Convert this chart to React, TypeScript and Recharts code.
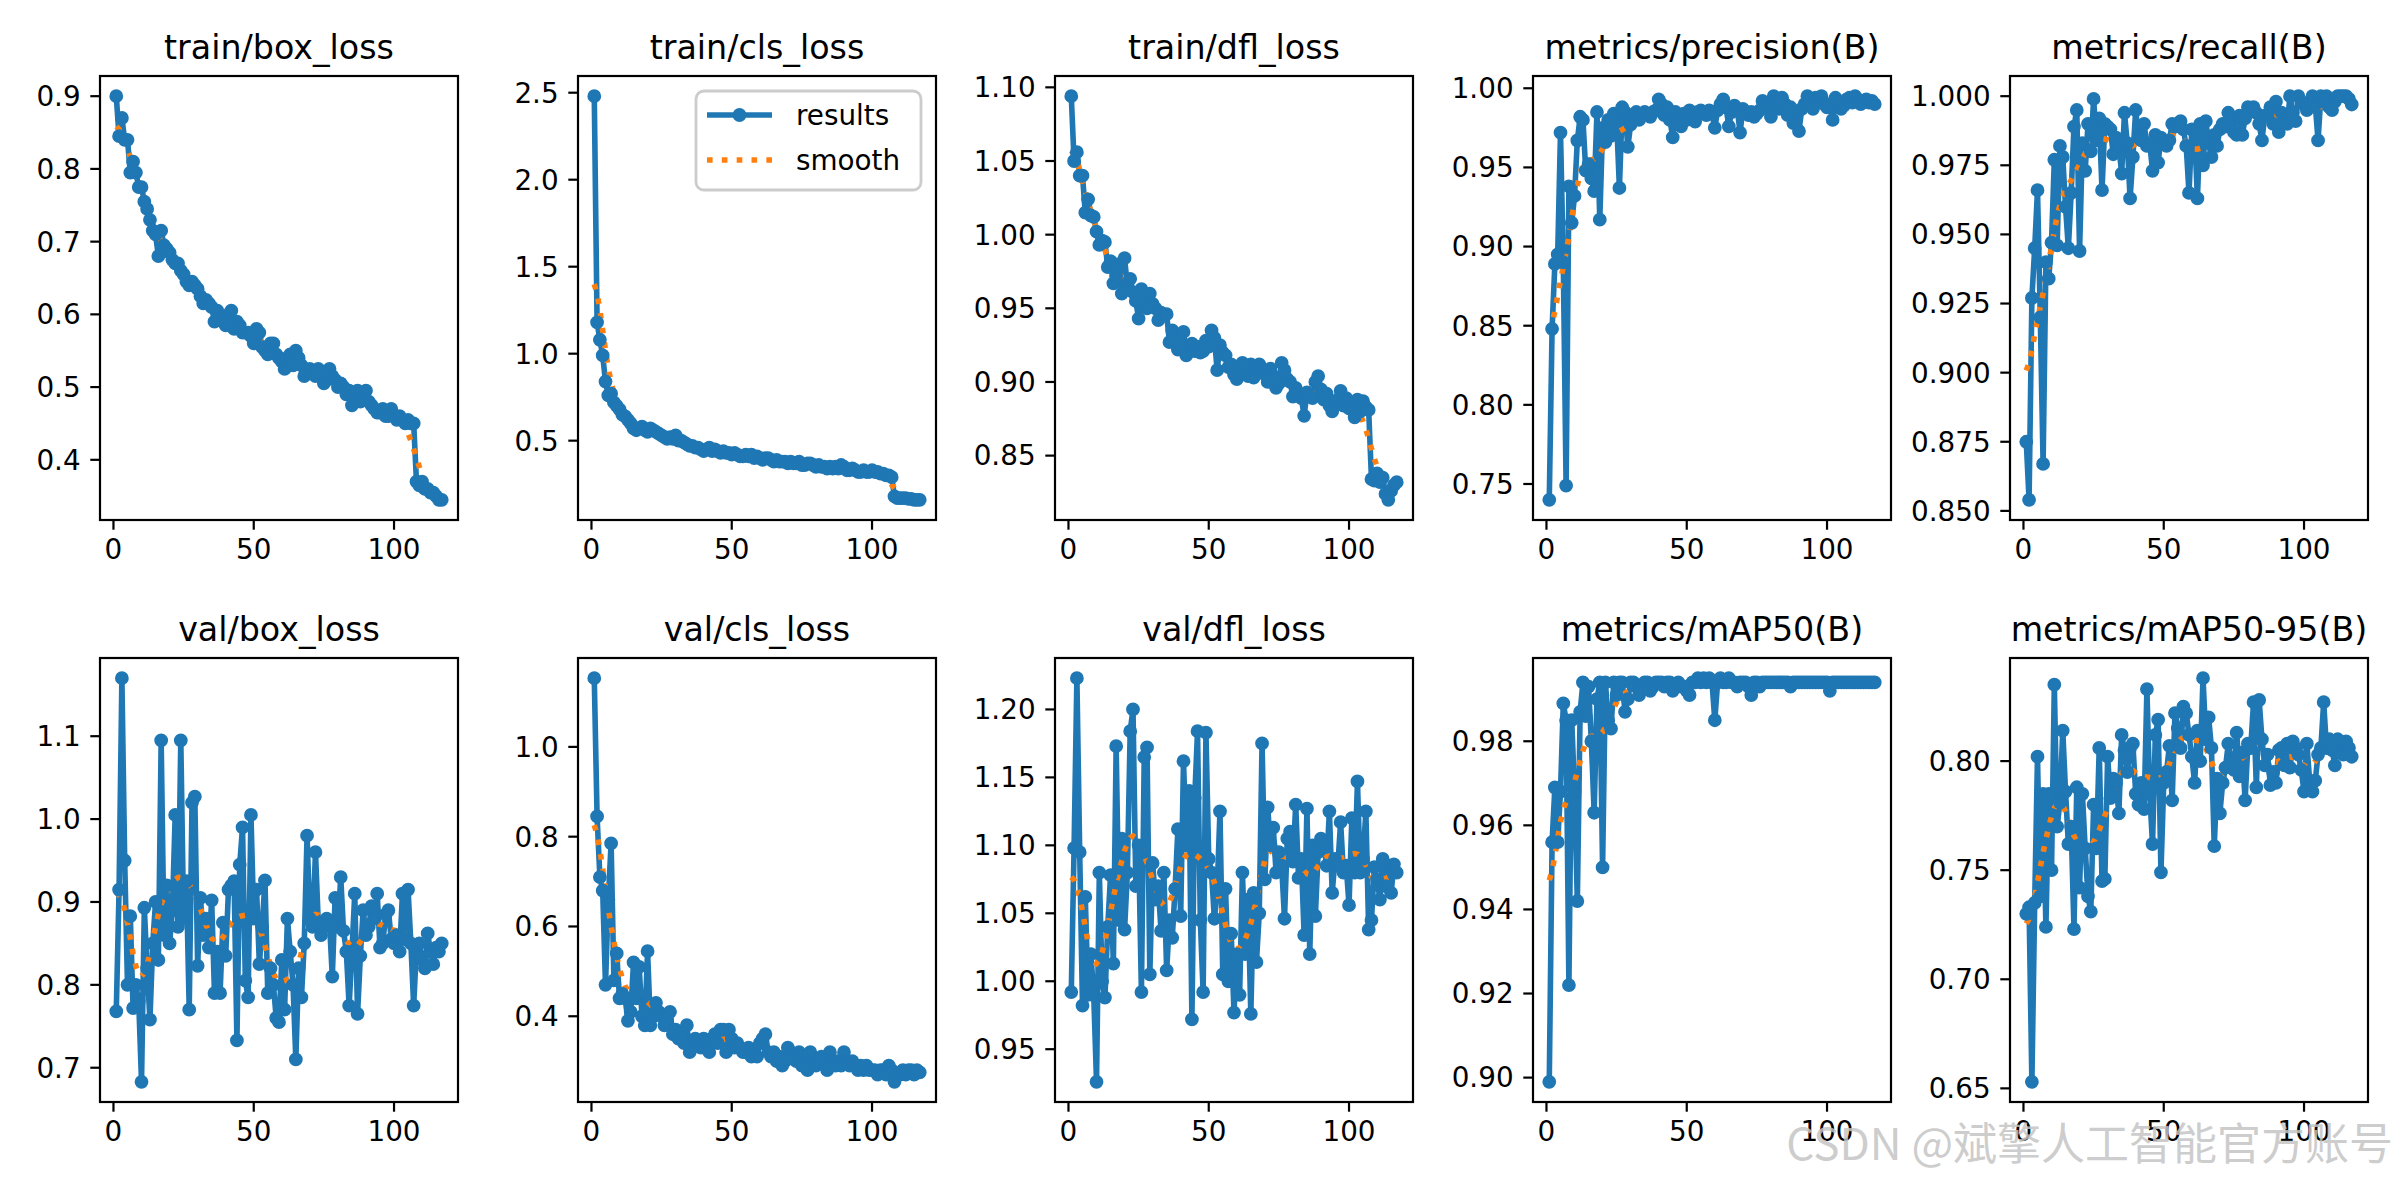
import React from 'react'
import { LineChart, Line, XAxis, YAxis } from 'recharts'

// epochs 1..117
const epochs = Array.from({ length: 117 }, (_, i) => i + 1)
const xTicks = [0, 50, 100]

const trainBoxLoss = [
  0.900, 0.845, 0.870, 0.840, 0.840, 0.795, 0.810, 0.795, 0.775, 0.775,
  0.755, 0.745, 0.730, 0.715, 0.710, 0.680, 0.715, 0.695, 0.690, 0.685,
  0.675, 0.670, 0.670, 0.660, 0.655, 0.645, 0.640, 0.645, 0.640, 0.635,
  0.625, 0.615, 0.620, 0.615, 0.610, 0.590, 0.605, 0.595, 0.590, 0.585,
  0.600, 0.605, 0.580, 0.590, 0.585, 0.575, 0.575, 0.575, 0.570, 0.560,
  0.580, 0.575, 0.555, 0.550, 0.545, 0.560, 0.560, 0.545, 0.540, 0.535,
  0.525, 0.540, 0.545, 0.530, 0.550, 0.540, 0.530, 0.515, 0.520, 0.525,
  0.520, 0.515, 0.525, 0.520, 0.505, 0.510, 0.525, 0.515, 0.510, 0.500,
  0.505, 0.500, 0.490, 0.495, 0.475, 0.490, 0.495, 0.480, 0.485, 0.495,
  0.480, 0.475, 0.470, 0.465, 0.465, 0.470, 0.460, 0.460, 0.470, 0.460,
  0.455, 0.460, 0.455, 0.450, 0.455, 0.450, 0.450, 0.370, 0.365, 0.370,
  0.360, 0.360, 0.355, 0.355, 0.350, 0.345, 0.345,
]

const trainClsLoss = [
  2.48, 1.18, 1.08, 0.99, 0.84, 0.76, 0.77, 0.72, 0.70, 0.68,
  0.65, 0.64, 0.62, 0.60, 0.57, 0.56, 0.57, 0.58, 0.56, 0.55,
  0.57, 0.56, 0.55, 0.54, 0.53, 0.52, 0.51, 0.52, 0.51, 0.53,
  0.50, 0.50, 0.49, 0.48, 0.47, 0.47, 0.46, 0.46, 0.45, 0.44,
  0.45, 0.46, 0.44, 0.45, 0.44, 0.43, 0.44, 0.43, 0.43, 0.42,
  0.43, 0.42, 0.41, 0.41, 0.42, 0.41, 0.42, 0.40, 0.41, 0.40,
  0.39, 0.40, 0.40, 0.39, 0.38, 0.39, 0.38, 0.38, 0.38, 0.37,
  0.38, 0.37, 0.37, 0.38, 0.36, 0.36, 0.37, 0.37, 0.36, 0.35,
  0.36, 0.35, 0.35, 0.34, 0.35, 0.34, 0.35, 0.34, 0.36, 0.35,
  0.33, 0.33, 0.34, 0.33, 0.32, 0.32, 0.33, 0.32, 0.32, 0.33,
  0.32, 0.32, 0.31, 0.31, 0.30, 0.30, 0.29, 0.18, 0.17, 0.17,
  0.17, 0.17, 0.165, 0.165, 0.16, 0.16, 0.16,
]

const trainDflLoss = [
  1.094, 1.050, 1.056, 1.040, 1.040, 1.015, 1.024, 1.013, 1.012, 1.002,
  0.993, 0.996, 0.995, 0.978, 0.982, 0.967, 0.972, 0.980, 0.960, 0.984,
  0.965, 0.970, 0.961, 0.955, 0.943, 0.963, 0.955, 0.950, 0.960, 0.953,
  0.950, 0.942, 0.947, 0.945, 0.946, 0.927, 0.935, 0.930, 0.922, 0.926,
  0.934, 0.918, 0.924, 0.926, 0.921, 0.924, 0.920, 0.921, 0.928, 0.924,
  0.935, 0.930, 0.908, 0.925, 0.920, 0.918, 0.910, 0.912, 0.905, 0.902,
  0.906, 0.913, 0.908, 0.904, 0.912, 0.903, 0.910, 0.912, 0.906, 0.908,
  0.900, 0.909, 0.904, 0.896, 0.899, 0.913, 0.908, 0.902, 0.900, 0.890,
  0.896, 0.892, 0.889, 0.877, 0.893, 0.890, 0.889, 0.900, 0.904, 0.895,
  0.888, 0.892, 0.884, 0.880, 0.886, 0.888, 0.894, 0.884, 0.889, 0.882,
  0.885, 0.876, 0.888, 0.880, 0.887, 0.883, 0.881, 0.834, 0.833, 0.838,
  0.832, 0.835, 0.824, 0.820, 0.826, 0.830, 0.832,
]

const precision = [
  0.740, 0.848, 0.889, 0.895, 0.972, 0.890, 0.749, 0.938, 0.915, 0.932,
  0.967, 0.982, 0.980, 0.948, 0.952, 0.943, 0.935, 0.985, 0.917, 0.975,
  0.966, 0.980, 0.970, 0.984, 0.980, 0.937, 0.988, 0.985, 0.963, 0.977,
  0.983, 0.985, 0.980, 0.983, 0.985, 0.984, 0.982, 0.985, 0.986, 0.993,
  0.990, 0.983, 0.988, 0.980, 0.969, 0.985, 0.980, 0.976, 0.984, 0.980,
  0.986, 0.983, 0.979, 0.985, 0.986, 0.984, 0.983, 0.986, 0.984, 0.975,
  0.986, 0.990, 0.993, 0.988, 0.976, 0.985, 0.989, 0.987, 0.972, 0.987,
  0.985, 0.983, 0.985, 0.982, 0.984, 0.986, 0.992, 0.989, 0.990, 0.982,
  0.995, 0.990, 0.987, 0.994, 0.990, 0.983, 0.988, 0.978, 0.985, 0.973,
  0.987, 0.990, 0.995, 0.992, 0.987, 0.994, 0.993, 0.995, 0.990, 0.988,
  0.990, 0.980, 0.994, 0.991, 0.987, 0.989, 0.993, 0.994, 0.991, 0.995,
  0.993, 0.990, 0.992, 0.993, 0.991, 0.992, 0.990,
]

const recall = [
  0.875, 0.854, 0.927, 0.945, 0.966, 0.920, 0.867, 0.940, 0.934, 0.947,
  0.977, 0.946, 0.982, 0.978, 0.960, 0.945, 0.965, 0.989, 0.995, 0.944,
  0.983, 0.973, 0.990, 0.980, 0.999, 0.984, 0.992, 0.966, 0.990, 0.989,
  0.988, 0.979, 0.985, 0.982, 0.972, 0.994, 0.983, 0.963, 0.978, 0.995,
  0.985, 0.984, 0.990, 0.982, 0.983, 0.973, 0.986, 0.976, 0.985, 0.983,
  0.982, 0.984, 0.990, 0.989, 0.990, 0.991, 0.988, 0.982, 0.965, 0.988,
  0.987, 0.963, 0.990, 0.975, 0.991, 0.983, 0.978, 0.986, 0.982, 0.988,
  0.990, 0.989, 0.994, 0.990, 0.987, 0.986, 0.993, 0.986, 0.992, 0.996,
  0.995, 0.996, 0.994, 0.990, 0.984, 0.993, 0.993, 0.996, 0.990, 0.998,
  0.987, 0.994, 0.992, 0.990, 1.000, 0.994, 0.991, 1.000, 0.998, 0.997,
  0.995, 0.996, 1.000, 0.997, 0.984, 1.000, 0.998, 1.000, 0.996, 0.995,
  0.998, 1.000, 1.000, 1.000, 1.000, 0.999, 0.997,
]

const valBoxLoss = [
  0.768, 0.915, 1.170, 0.950, 0.800, 0.883, 0.772, 0.800, 0.780, 0.683,
  0.893, 0.820, 0.758, 0.850, 0.900, 0.830, 1.095, 0.860, 0.920, 0.850,
  0.890, 1.005, 0.870, 1.095, 0.880, 0.925, 0.770, 1.020, 1.027, 0.823,
  0.905, 0.860, 0.880, 0.845, 0.902, 0.790, 0.840, 0.790, 0.875, 0.835,
  0.915, 0.920, 0.925, 0.733, 0.945, 0.990, 0.805, 0.785, 1.005, 0.880,
  0.915, 0.825, 0.870, 0.926, 0.790, 0.820, 0.800, 0.760, 0.755, 0.830,
  0.770, 0.880, 0.840, 0.800, 0.710, 0.820, 0.785, 0.850, 0.980, 0.880,
  0.870, 0.960, 0.875, 0.860, 0.870, 0.880, 0.875, 0.810, 0.905, 0.870,
  0.930, 0.865, 0.840, 0.775, 0.840, 0.910, 0.765, 0.835, 0.890, 0.860,
  0.870, 0.895, 0.880, 0.910, 0.845, 0.850, 0.885, 0.890, 0.855, 0.850,
  0.860, 0.840, 0.910, 0.855, 0.915, 0.850, 0.775, 0.845, 0.850, 0.830,
  0.820, 0.862, 0.840, 0.825, 0.845, 0.840, 0.850,
]

const valClsLoss = [
  1.153, 0.845, 0.710, 0.680, 0.470, 0.660, 0.785, 0.480, 0.540, 0.440,
  0.450, 0.440, 0.390, 0.410, 0.520, 0.440, 0.510, 0.400, 0.380, 0.545,
  0.380, 0.400, 0.430, 0.410, 0.400, 0.380, 0.390, 0.410, 0.360, 0.370,
  0.350, 0.360, 0.340, 0.380, 0.320, 0.330, 0.350, 0.340, 0.330, 0.350,
  0.340, 0.320, 0.350, 0.360, 0.340, 0.370, 0.370, 0.320, 0.370, 0.350,
  0.330, 0.340, 0.330, 0.320, 0.320, 0.330, 0.310, 0.320, 0.310, 0.340,
  0.350, 0.360, 0.320, 0.310, 0.320, 0.300, 0.310, 0.290, 0.300, 0.330,
  0.320, 0.310, 0.300, 0.320, 0.290, 0.310, 0.280, 0.320, 0.300, 0.290,
  0.300, 0.310, 0.300, 0.280, 0.320, 0.300, 0.290, 0.300, 0.290, 0.320,
  0.300, 0.290, 0.300, 0.290, 0.280, 0.290, 0.280, 0.290, 0.280, 0.280,
  0.280, 0.270, 0.280, 0.280, 0.270, 0.290, 0.280, 0.254, 0.270, 0.270,
  0.280, 0.270, 0.280, 0.280, 0.270, 0.280, 0.275,
]

const valDflLoss = [
  0.992, 1.098, 1.223, 1.095, 0.982, 1.062, 0.990, 1.020, 0.990, 0.926,
  1.080, 1.000, 0.988, 1.040, 1.078, 1.013, 1.173, 1.045, 1.105, 1.038,
  1.080, 1.184, 1.200, 1.070, 1.100, 0.992, 1.165, 1.172, 1.005, 1.087,
  1.060, 1.070, 1.037, 1.080, 1.008, 1.045, 1.032, 1.068, 1.112, 1.048,
  1.162, 1.100, 1.140, 0.972, 1.135, 1.184, 1.045, 0.992, 1.183, 1.090,
  1.080, 1.046, 1.067, 1.125, 1.005, 1.068, 1.000, 1.035, 0.977, 1.020,
  0.990, 1.080, 1.020, 1.060, 0.976, 1.065, 1.014, 1.050, 1.175, 1.075,
  1.128, 1.100, 1.113, 1.080, 1.095, 1.085, 1.046, 1.105, 1.110, 1.088,
  1.130, 1.076, 1.090, 1.034, 1.127, 1.020, 1.100, 1.048, 1.095, 1.105,
  1.100, 1.085, 1.125, 1.065, 1.090, 1.085, 1.117, 1.080, 1.085, 1.056,
  1.120, 1.080, 1.147, 1.080, 1.090, 1.125, 1.038, 1.045, 1.084, 1.075,
  1.060, 1.090, 1.070, 1.085, 1.065, 1.086, 1.080,
]

const mAP50 = [
  0.899, 0.956, 0.969, 0.956, 0.968, 0.989, 0.985, 0.922, 0.985, 0.968,
  0.942, 0.987, 0.994, 0.986, 0.993, 0.980, 0.963, 0.990, 0.994, 0.950,
  0.994, 0.985, 0.983, 0.994, 0.991, 0.994, 0.994, 0.987, 0.990, 0.994,
  0.994, 0.993, 0.991, 0.993, 0.994, 0.994, 0.992, 0.993, 0.994, 0.994,
  0.994, 0.993, 0.994, 0.994, 0.992, 0.993, 0.994, 0.993, 0.993, 0.992,
  0.991, 0.994, 0.994, 0.995, 0.994, 0.995, 0.994, 0.995, 0.994, 0.985,
  0.994, 0.995, 0.994, 0.994, 0.995, 0.994, 0.994, 0.993, 0.994, 0.994,
  0.994, 0.993, 0.991, 0.994, 0.994, 0.993, 0.994, 0.994, 0.994, 0.994,
  0.994, 0.994, 0.994, 0.994, 0.994, 0.994, 0.993, 0.994, 0.994, 0.994,
  0.994, 0.994, 0.994, 0.994, 0.994, 0.994, 0.994, 0.994, 0.994, 0.994,
  0.992, 0.994, 0.994, 0.994, 0.994, 0.994, 0.994, 0.994, 0.994, 0.994,
  0.994, 0.994, 0.994, 0.994, 0.994, 0.994, 0.994,
]

const mAP50_95 = [
  0.730, 0.733, 0.653, 0.735, 0.802, 0.738, 0.785, 0.724, 0.785, 0.750,
  0.835, 0.770, 0.781, 0.814, 0.786, 0.762, 0.770, 0.723, 0.788, 0.742,
  0.785, 0.760, 0.738, 0.731, 0.780, 0.760, 0.806, 0.745, 0.746, 0.802,
  0.783, 0.792, 0.790, 0.776, 0.812, 0.805, 0.795, 0.806, 0.808, 0.785,
  0.780, 0.790, 0.778, 0.833, 0.785, 0.762, 0.812, 0.819, 0.749, 0.790,
  0.795, 0.807, 0.782, 0.822, 0.815, 0.806, 0.825, 0.822, 0.812, 0.802,
  0.790, 0.814, 0.800, 0.838, 0.810, 0.820, 0.806, 0.761, 0.792, 0.776,
  0.790, 0.797, 0.808, 0.800, 0.796, 0.813, 0.793, 0.804, 0.782, 0.808,
  0.806, 0.827, 0.788, 0.828, 0.810, 0.798, 0.803, 0.789, 0.795, 0.790,
  0.805, 0.806, 0.798, 0.808, 0.797, 0.809, 0.806, 0.803, 0.796, 0.786,
  0.808, 0.791, 0.786, 0.791, 0.803, 0.806, 0.827, 0.806, 0.810, 0.805,
  0.798, 0.810, 0.805, 0.803, 0.809, 0.806, 0.802,
]

// y tick labels per panel
const boxTicks = [0.4, 0.5, 0.6, 0.7, 0.8, 0.9]
const clsTicks = [0.5, 1.0, 1.5, 2.0, 2.5]
const dflTicks = [0.85, 0.9, 0.95, 1.0, 1.05, 1.1]
const precisionTicks = [0.75, 0.8, 0.85, 0.9, 0.95, 1.0]
const recallTicks = [0.85, 0.875, 0.9, 0.925, 0.95, 0.975, 1.0]
const valBoxTicks = [0.7, 0.8, 0.9, 1.0, 1.1]
const valClsTicks = [0.4, 0.6, 0.8, 1.0]
const valDflTicks = [0.95, 1.0, 1.05, 1.1, 1.15, 1.2]
const map50Ticks = [0.9, 0.92, 0.94, 0.96, 0.98]
const map5095Ticks = [0.65, 0.7, 0.75, 0.8]

const panels = [
  { title: 'train/box_loss', values: trainBoxLoss, ticks: boxTicks, digits: 1 },
  { title: 'train/cls_loss', values: trainClsLoss, ticks: clsTicks, digits: 1 },
  { title: 'train/dfl_loss', values: trainDflLoss, ticks: dflTicks, digits: 2 },
  { title: 'metrics/precision(B)', values: precision, ticks: precisionTicks, digits: 2 },
  { title: 'metrics/recall(B)', values: recall, ticks: recallTicks, digits: 3 },
  { title: 'val/box_loss', values: valBoxLoss, ticks: valBoxTicks, digits: 1 },
  { title: 'val/cls_loss', values: valClsLoss, ticks: valClsTicks, digits: 1 },
  { title: 'val/dfl_loss', values: valDflLoss, ticks: valDflTicks, digits: 2 },
  { title: 'metrics/mAP50(B)', values: mAP50, ticks: map50Ticks, digits: 2 },
  { title: 'metrics/mAP50-95(B)', values: mAP50_95, ticks: map5095Ticks, digits: 2 },
]

// layout of the 2x5 grid (px)
const LEFTS = [100, 578, 1055, 1533, 2010]
const TOPS = [76, 658]
const W = 358
const H = 444
const Y_AXIS_W = 110
const X_AXIS_H = 70
const PAD_T = 10
const PAD_R = 20

const BLUE = '#1f77b4'
const ORANGE = '#ff7f0e'
const FONT = 'DejaVu Sans, sans-serif'
const LW = 5.6

// same as scipy gaussian_filter1d(y, sigma), mode 'reflect'
function gaussianSmooth(y: number[], sigma: number) {
  const radius = Math.round(4 * sigma)
  const w: number[] = []
  let sum = 0
  for (let k = -radius; k <= radius; k++) {
    const v = Math.exp((-0.5 * k * k) / (sigma * sigma))
    w.push(v)
    sum += v
  }
  const n = y.length
  const at = (i: number) => {
    while (i < 0 || i >= n) i = i < 0 ? -i - 1 : 2 * n - i - 1
    return y[i]
  }
  return y.map((_, i) => {
    let acc = 0
    for (let k = -radius; k <= radius; k++) acc += w[k + radius] * at(i + k)
    return acc / sum
  })
}

const xMin = epochs[0] - 0.05 * (epochs[epochs.length - 1] - epochs[0])
const xMax = epochs[epochs.length - 1] + 0.05 * (epochs[epochs.length - 1] - epochs[0])

const tickStyle = { fill: '#000', fontSize: 27.8, fontFamily: FONT }

function Panel({ idx }: { idx: number }) {
  const p = panels[idx]
  const L = LEFTS[idx % 5]
  const T = TOPS[Math.floor(idx / 5)]
  const smooth = gaussianSmooth(p.values, 3)
  const data = epochs.map((e, i) => ({ epoch: e, results: p.values[i], smooth: smooth[i] }))
  const lo = Math.min(...p.values, ...smooth)
  const hi = Math.max(...p.values, ...smooth)
  const pad = (hi - lo) * 0.05
  return (
    <div style={{ position: 'absolute', left: L - Y_AXIS_W, top: T - PAD_T }}>
      <LineChart
        width={W + Y_AXIS_W + PAD_R}
        height={H + PAD_T + X_AXIS_H}
        data={data}
        margin={{ top: PAD_T, right: PAD_R, bottom: 0, left: 0 }}
      >
        <XAxis
          dataKey="epoch"
          type="number"
          domain={[xMin, xMax]}
          allowDataOverflow
          ticks={xTicks}
          interval={0}
          height={X_AXIS_H}
          axisLine={false}
          stroke="#000"
          tickLine={{ stroke: '#000', strokeWidth: 2.2 }}
          tickSize={9.7}
          tickMargin={9.7}
          tick={tickStyle}
        />
        <YAxis
          type="number"
          domain={[lo - pad, hi + pad]}
          allowDataOverflow
          ticks={p.ticks}
          interval={0}
          width={Y_AXIS_W}
          axisLine={false}
          stroke="#000"
          tickLine={{ stroke: '#000', strokeWidth: 2.2 }}
          tickSize={9.7}
          tickMargin={9.7}
          tick={tickStyle}
          tickFormatter={(v: number) => v.toFixed(p.digits)}
        />
        <Line
          dataKey="results"
          stroke={BLUE}
          strokeWidth={LW}
          strokeLinejoin="round"
          dot={{ r: 5.5, fill: BLUE, stroke: BLUE, strokeWidth: 2.8 }}
          activeDot={false}
          isAnimationActive={false}
        />
        <Line
          dataKey="smooth"
          stroke={ORANGE}
          strokeWidth={LW}
          strokeDasharray="5.6 9.24"
          dot={false}
          activeDot={false}
          isAnimationActive={false}
        />
      </LineChart>
    </div>
  )
}

export default function App() {
  return (
    <div
      style={{
        position: 'absolute',
        left: 0,
        top: 0,
        width: 2400,
        height: 1200,
        background: '#fff',
        overflow: 'hidden',
      }}
    >
      {panels.map((_, i) => (
        <Panel key={i} idx={i} />
      ))}
      <svg
        width={2400}
        height={1200}
        style={{ position: 'absolute', left: 0, top: 0, pointerEvents: 'none' }}
      >
        {panels.map((p, i) => {
          const L = LEFTS[i % 5]
          const T = TOPS[Math.floor(i / 5)]
          return (
            <g key={i}>
              <rect x={L} y={T} width={W} height={H} fill="none" stroke="#000" strokeWidth={2.2} />
              <text
                x={L + W / 2}
                y={T - 17}
                textAnchor="middle"
                fontFamily={FONT}
                fontSize={33.3}
                fill="#000"
              >
                {p.title}
              </text>
            </g>
          )
        })}
        {/* legend, train/cls_loss panel */}
        <g>
          <rect
            x={696}
            y={91}
            width={225}
            height={99}
            rx={8}
            fill="#fff"
            fillOpacity={0.8}
            stroke="#cccccc"
            strokeWidth={2.8}
          />
          <line x1={707} y1={115} x2={772} y2={115} stroke={BLUE} strokeWidth={LW} />
          <circle cx={739.5} cy={115} r={5.5} fill={BLUE} stroke={BLUE} strokeWidth={2.8} />
          <text x={796} y={125} fontFamily={FONT} fontSize={27.8} fill="#000">
            results
          </text>
          <line
            x1={707}
            y1={160}
            x2={772}
            y2={160}
            stroke={ORANGE}
            strokeWidth={LW}
            strokeDasharray="5.6 9.24"
          />
          <text x={796} y={170} fontFamily={FONT} fontSize={27.8} fill="#000">
            smooth
          </text>
        </g>
        {/* watermark, lies over the bottom-right tick labels as in the source image */}
        <text
          x={2393}
          y={1160}
          textAnchor="end"
          fontFamily="Noto Sans CJK SC, sans-serif"
          fontSize={44}
          fill="#c4c4c4"
          fillOpacity={0.85}
        >
          CSDN @斌擎人工智能官方账号
        </text>
      </svg>
    </div>
  )
}
